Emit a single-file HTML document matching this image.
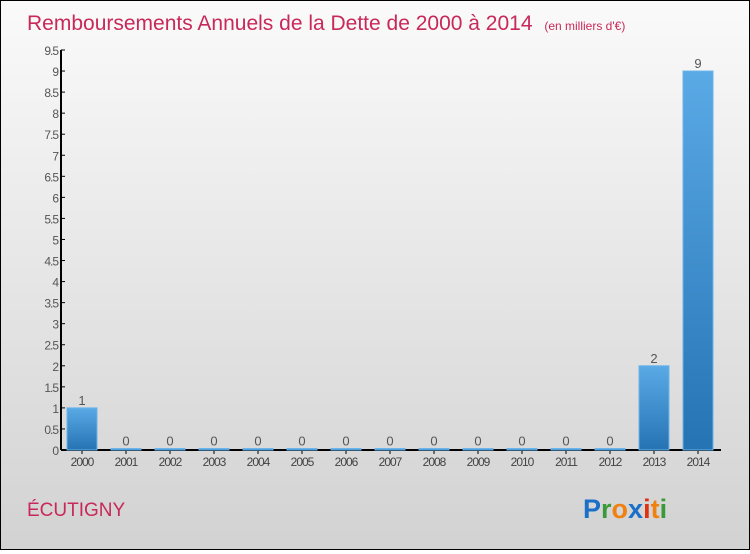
<!DOCTYPE html>
<html><head><meta charset="utf-8"><style>
body{margin:0;width:750px;height:550px;overflow:hidden;font-family:"Liberation Sans",sans-serif}
#c{position:absolute;left:0;top:0;width:748px;height:548px;border:1px solid #000;background:linear-gradient(#fafafa,#d2d2d2)}
</style></head><body>
<div id="c">
<svg id="s" width="748" height="548">
<defs><linearGradient id="g" x1="0" y1="0" x2="0" y2="1"><stop offset="0" stop-color="#5aaae6"/><stop offset="1" stop-color="#2673b4"/></linearGradient></defs>
<text x="26" y="29" font-size="21" fill="#c8285a">Remboursements Annuels de la Dette de 2000 à 2014 <tspan font-size="12" dx="6">(en milliers d'€)</tspan></text>
<text x="26" y="515" font-size="19" fill="#c8285a">ÉCUTIGNY</text>
<g font-size="27" font-weight="bold">
<text x="582" y="517" fill="#1a6fc8">P<tspan fill="#3a9a3a">r</tspan><tspan fill="#f08010">o</tspan><tspan fill="#1a6fc8">x</tspan><tspan fill="#e03010">i</tspan><tspan fill="#f08010">t</tspan><tspan fill="#3a9a3a">i</tspan></text></g>
<g id="ax"></g><g id="bars"></g>
</svg></div>
<script>
const years=["2000","2001","2002","2003","2004","2005","2006","2007","2008","2009","2010","2011","2012","2013","2014"];
const values=[1,0,0,0,0,0,0,0,0,0,0,0,0,2,9];
const yTicks=["0","0.5","1","1.5","2","2.5","3","3.5","4","4.5","5","5.5","6","6.5","7","7.5","8","8.5","9","9.5"];
const NS="http://www.w3.org/2000/svg";
const y0=449,yTop=49,yMax=9.5,x0=81,dx=44,bw=30,axX=60;
const Y=v=>y0-(v/yMax)*(y0-yTop);
const X=i=>x0+i*dx;
function mk(t,a,p){const e=document.createElementNS(NS,t);for(const k in a)e.setAttribute(k,a[k]);p.appendChild(e);return e;}
const ax=document.getElementById('ax'),bars=document.getElementById('bars');
let l=mk('line',{x1:axX,y1:yTop,x2:axX,y2:y0,stroke:'#000','stroke-width':2},ax);


l=mk('line',{x1:axX,y1:y0,x2:720,y2:y0,stroke:'#000','stroke-width':2},ax);


yTicks.forEach(t=>{const y=Y(parseFloat(t));
mk('line',{x1:axX,y1:y,x2:axX+4,y2:y,stroke:'#000'},ax);
const e=mk('text',{x:axX-3,y:y+5,'text-anchor':'end','font-size':12,fill:'#555','letter-spacing':'-1'},ax);e.textContent=t;

});
years.forEach((yr,i)=>{const x=X(i),v=values[i];
mk('line',{x1:x,y1:y0,x2:x,y2:y0+4,stroke:'#000'},ax);
const t=mk('text',{x:x,y:y0+16,'text-anchor':'middle','font-size':12,fill:'#444','letter-spacing':'-1'},ax);t.textContent=yr;


const h=Math.max(y0-Y(v),1.5);
const r=mk('rect',{x:x-bw/2,y:y0-h,width:bw,height:h,fill:'url(#g)',stroke:'#6ab4ea','stroke-width':1},bars);


const lb=mk('text',{x:x,y:y0-h-3,'text-anchor':'middle','font-size':13,fill:'#555'},bars);lb.textContent=String(v);

});
</script>
</body></html>
